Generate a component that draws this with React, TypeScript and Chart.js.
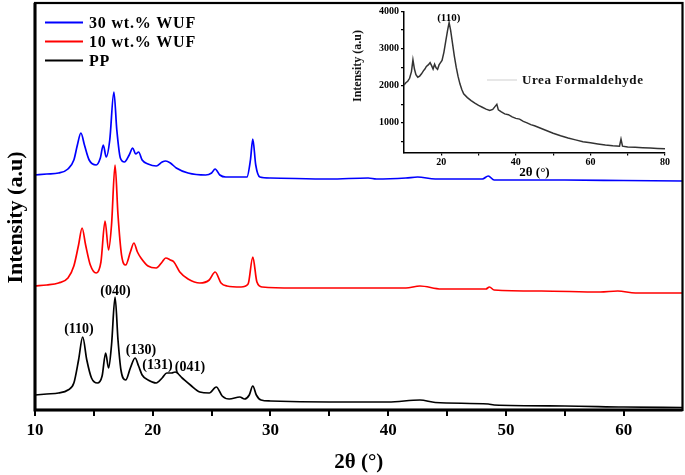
import React, { useEffect, useRef } from "react";
import { Chart, registerables } from "chart.js";

Chart.register(...registerables);

const FONT = "'Liberation Serif', 'Times New Roman', serif";

// ---------- Main XRD patterns (2θ in degrees, intensity in a.u., stacked) ----------
const wuf30X = [10, 11, 12, 12.8, 13.3, 13.6, 13.9, 14.2, 14.6, 15.2, 15.55, 15.8, 16.05, 16.35, 16.7, 16.95, 17.25, 17.6, 18.0, 18.3, 18.55, 18.8, 19.1, 19.6, 20.3, 20.8, 21.1, 21.5, 22.0, 23.0, 24.5, 25.0, 25.3, 25.7, 26.2, 28.0, 28.3, 28.5, 28.75, 29.1, 30, 35, 38.3, 39, 41.5, 42.5, 44, 48, 48.5, 49, 55, 60, 65];
const wuf30Y = [235, 236, 237, 241, 250, 265, 277, 265, 250, 245, 252, 265, 253, 270, 318, 280, 252, 248, 255, 262, 256, 258, 250, 246, 244, 248, 249, 247, 242, 237, 235, 237, 241, 235, 233, 233, 250, 271, 245, 233, 232, 231, 232, 231, 232, 233, 231, 231, 234, 230, 230, 229.5, 229];

const wuf10X = [10, 11, 12, 12.8, 13.3, 13.7, 14.0, 14.3, 14.7, 15.2, 15.6, 15.95, 16.25, 16.5, 16.8, 17.05, 17.35, 17.7, 18.1, 18.4, 18.7, 19.0, 19.6, 20.3, 20.8, 21.1, 21.5, 21.8, 22.3, 23.0, 24.0, 24.8, 25.3, 25.8, 26.3, 27.5, 28.1, 28.5, 28.85, 29.3, 32, 38, 41.5, 42.7, 44.5, 48.3, 48.6, 49, 53, 58, 59.5, 61, 65];
const wuf10Y = [124, 125, 127, 132, 144, 165, 182, 165, 145, 137, 148, 189, 160, 185, 245, 195, 155, 145, 158, 167, 158, 152, 144, 142, 148, 152, 150, 148, 138, 131, 127, 130, 138, 127, 124, 123, 126, 153, 128, 123, 122, 122, 122, 124, 121, 121, 123, 120, 119, 118, 119, 117, 117];

const ppX = [10, 11, 12, 12.8, 13.3, 13.7, 14.05, 14.4, 14.8, 15.3, 15.7, 16.0, 16.25, 16.5, 16.8, 17.05, 17.3, 17.7, 18.1, 18.5, 18.8, 19.1, 19.6, 20.3, 20.8, 21.2, 21.6, 21.9, 22.5, 23.2, 24.0, 24.8, 25.4, 25.9, 26.5, 27.4, 27.8, 28.2, 28.5, 28.8, 29.2, 30, 35, 40, 42.7, 44, 48.5, 49, 55, 60, 65];
const ppY = [15, 16, 17, 20, 27, 50, 73, 50, 32, 27, 34, 57, 42, 65, 113, 70, 40, 30, 42, 52, 44, 35, 30, 27, 32, 37, 37, 38, 32, 25, 18, 17, 23, 14, 11, 13, 11, 15, 24, 15, 10, 9, 8, 8, 10, 7.5, 6, 5, 4, 3, 2.5];

const seriesLabels = ["30 wt.% WUF", "10 wt.% WUF", "PP"];
const seriesColors = ["#0000ff", "#ff0000", "#000000"];

const mainXTicks = [10, 15, 20, 25, 30, 35, 40, 45, 50, 55, 60];

const peakLabels = ["(110)", "(040)", "(130)", "(131)", "(041)"];
const peakLabelX = [13.73, 16.83, 19.0, 20.4, 23.16];
const peakLabelY = [81, 119, 60, 45, 43];

// ---------- Inset: Urea Formaldehyde ----------
const ufX = [10, 10.5, 11, 11.5, 12, 12.4, 12.8, 13.2, 13.7, 14.2, 14.7, 15.2, 15.6, 16, 16.5, 17, 17.4, 17.8, 18.2, 18.6, 19, 19.4, 19.8, 20.2, 20.7, 21.2, 21.7, 22.1, 22.5, 23, 23.5, 24, 24.5, 25, 25.5, 26, 27, 28, 29, 30, 31, 32, 33, 33.8, 34.5, 34.9, 35.3, 36, 37, 38, 39, 40, 41, 42, 43, 44, 45, 46, 48, 50, 52, 54, 56, 58, 60, 62, 64, 66, 67.8, 68.2, 68.6, 70, 72, 74, 76, 78, 80];
const ufY = [2020, 2080, 2120, 2200, 2380, 2700, 2450, 2300, 2230, 2260, 2320, 2400, 2450, 2520, 2560, 2620, 2540, 2450, 2580, 2480, 2440, 2560, 2620, 2680, 2900, 3200, 3500, 3700, 3500, 3150, 2800, 2500, 2250, 2050, 1900, 1780, 1680, 1600, 1530, 1470, 1420, 1370, 1330, 1360, 1450, 1500, 1350, 1300, 1240, 1220, 1160, 1120, 1100, 1040, 1000, 950, 920, 880, 800, 720, 650, 590, 540, 490, 460, 430, 400, 380, 370, 560, 370, 350, 340, 330, 320, 310, 300];

const insetLabel = "Urea Formaldehyde";
const insetXTicks = [20, 30, 40, 50, 60, 70, 80];
const insetYTicks = [500, 1000, 1500, 2000, 2500, 3000, 3500, 4000];
const insetPeakLabel = "(110)";
const insetPeakX = 22.0;
const insetPeakY = 3820;

const toPts = (xs: number[], ys: number[]) => xs.map((x, i) => ({ x, y: ys[i] }));

const framePlugin = {
  id: "frame",
  afterDraw(chart: any) {
    const { ctx, chartArea: a } = chart;
    ctx.save();
    ctx.strokeStyle = "#000";
    ctx.lineWidth = 2.2;
    ctx.strokeRect(a.left, a.top, a.right - a.left, a.bottom - a.top);
    ctx.lineWidth = 3;
    ctx.beginPath();
    ctx.moveTo(a.left, a.top);
    ctx.lineTo(a.left, a.bottom);
    ctx.lineTo(a.right, a.bottom);
    ctx.stroke();
    ctx.restore();
  },
};

const mainLegendPlugin = {
  id: "mainLegend",
  afterDraw(chart: any) {
    const { ctx, chartArea: a } = chart;
    ctx.save();
    chart.data.datasets.forEach((ds: any, i: number) => {
      const y = a.top + 19.5 + i * 19;
      ctx.strokeStyle = ds.borderColor;
      ctx.lineWidth = 2;
      ctx.beginPath();
      ctx.moveTo(a.left + 10, y);
      ctx.lineTo(a.left + 48, y);
      ctx.stroke();
      ctx.fillStyle = "#000";
      ctx.font = `bold 16px ${FONT}`;
      (ctx as any).letterSpacing = "0.8px";
      ctx.textAlign = "left";
      ctx.textBaseline = "middle";
      ctx.fillText(ds.label, a.left + 54, y + 1);
    });
    ctx.restore();
  },
};

const peakLabelPlugin = {
  id: "peakLabels",
  afterDatasetsDraw(chart: any) {
    const { ctx, scales } = chart;
    ctx.save();
    ctx.fillStyle = "#000";
    ctx.font = `bold 14px ${FONT}`;
    ctx.textAlign = "center";
    ctx.textBaseline = "middle";
    peakLabels.forEach((t, i) => {
      ctx.fillText(t, scales.x.getPixelForValue(peakLabelX[i]), scales.y.getPixelForValue(peakLabelY[i]));
    });
    ctx.restore();
  },
};

const insetExtrasPlugin = {
  id: "insetExtras",
  afterDraw(chart: any) {
    const { ctx, scales, chartArea: a } = chart;
    ctx.save();
    // peak label
    ctx.fillStyle = "#000";
    ctx.font = `bold 11px ${FONT}`;
    ctx.textAlign = "center";
    ctx.textBaseline = "middle";
    ctx.fillText(insetPeakLabel, scales.x.getPixelForValue(insetPeakX), scales.y.getPixelForValue(insetPeakY));
    // legend
    const ly = a.top + 68.5;
    ctx.strokeStyle = "#cfcfcf";
    ctx.lineWidth = 1;
    ctx.beginPath();
    ctx.moveTo(a.left + 83, ly);
    ctx.lineTo(a.left + 113, ly);
    ctx.stroke();
    ctx.fillStyle = "#111";
    ctx.font = `bold 13px ${FONT}`;
    (ctx as any).letterSpacing = "0.6px";
    ctx.textAlign = "left";
    ctx.fillText(insetLabel, a.left + 118, ly + 1);
    // y title
    (ctx as any).letterSpacing = "0px";
    ctx.font = `bold 12px ${FONT}`;
    ctx.textAlign = "center";
    ctx.translate(18, a.top + 54.5);
    ctx.rotate(-Math.PI / 2);
    ctx.fillText("Intensity (a.u)", 0, 0);
    ctx.restore();
  },
};

function MainChart() {
  const ref = useRef<HTMLCanvasElement>(null);
  useEffect(() => {
    const chart = new Chart(ref.current as HTMLCanvasElement, {
      type: "line",
      data: {
        datasets: [
          { label: seriesLabels[0], data: toPts(wuf30X, wuf30Y), borderColor: seriesColors[0], backgroundColor: seriesColors[0] },
          { label: seriesLabels[1], data: toPts(wuf10X, wuf10Y), borderColor: seriesColors[1], backgroundColor: seriesColors[1] },
          { label: seriesLabels[2], data: toPts(ppX, ppY), borderColor: seriesColors[2], backgroundColor: seriesColors[2] },
        ],
      },
      options: {
        animation: false,
        responsive: false,
        events: [],
        layout: { padding: { top: 3, right: 2.5, left: 0, bottom: 0 } },
        elements: {
          point: { radius: 0 },
          line: { borderWidth: 1.7, cubicInterpolationMode: "monotone" },
        },
        plugins: { legend: { display: false }, tooltip: { enabled: false } },
        scales: {
          x: {
            type: "linear",
            min: 10,
            max: 65,
            afterBuildTicks: (s: any) => {
              s.ticks = mainXTicks.map((v) => ({ value: v }));
            },
            afterFit: (s: any) => {
              s.height = 65;
            },
            ticks: {
              autoSkip: false,
              maxRotation: 0,
              padding: 4,
              color: "#000",
              font: { family: FONT, size: 17, weight: "bold" },
              callback: (v: any) => (Number(v) % 10 === 0 ? String(v) : ""),
            },
            grid: { display: true, drawOnChartArea: false, drawTicks: true, tickLength: 6, color: "#000", lineWidth: 2 },
            border: { display: false },
            title: {
              display: true,
              text: "2θ (°)",
              color: "#000",
              font: { family: FONT, size: 21, weight: "bold" },
              padding: { top: 0, bottom: 0 },
            },
          },
          y: {
            type: "linear",
            min: 0,
            max: 407,
            afterFit: (s: any) => {
              s.width = 35;
            },
            ticks: { display: false },
            grid: { display: false },
            border: { display: false },
            title: {
              display: true,
              text: "Intensity (a.u)\u2002\u2002",
              color: "#000",
              font: { family: FONT, size: 22, weight: "bold" },
              padding: { top: 3, bottom: 0 },
            },
          },
        },
      } as any,
      plugins: [peakLabelPlugin, framePlugin, mainLegendPlugin],
    });
    return () => chart.destroy();
  }, []);
  return (
    <canvas ref={ref} width={685} height={475} style={{ position: "absolute", left: 0, top: 0, width: 685, height: 475 }} />
  );
}

function InsetChart() {
  const ref = useRef<HTMLCanvasElement>(null);
  useEffect(() => {
    const chart = new Chart(ref.current as HTMLCanvasElement, {
      type: "line",
      data: {
        datasets: [
          { label: insetLabel, data: toPts(ufX, ufY), borderColor: "#333333", backgroundColor: "#333333", borderWidth: 1.5 },
        ],
      },
      options: {
        animation: false,
        responsive: false,
        events: [],
        layout: { padding: { top: 11.5, right: 15, left: 0, bottom: 0 } },
        elements: { point: { radius: 0 }, line: { tension: 0 } },
        plugins: { legend: { display: false }, tooltip: { enabled: false } },
        scales: {
          x: {
            type: "linear",
            min: 10,
            max: 80,
            afterBuildTicks: (s: any) => {
              s.ticks = insetXTicks.map((v) => ({ value: v }));
            },
            afterFit: (s: any) => {
              s.height = 37.5;
            },
            ticks: {
              autoSkip: false,
              maxRotation: 0,
              padding: 1,
              color: "#000",
              font: { family: FONT, size: 10, weight: "bold" },
              callback: (v: any) => (Number(v) % 20 === 0 ? String(v) : ""),
            },
            grid: { display: true, drawOnChartArea: false, drawTicks: true, tickLength: 3, color: "#000", lineWidth: 1.2 },
            border: { display: true, color: "#000", width: 1.5 },
            title: {
              display: true,
              text: "2θ (°)",
              color: "#000",
              font: { family: FONT, size: 13, weight: "bold" },
              padding: { top: 0, bottom: 10 },
            },
          },
          y: {
            type: "linear",
            min: 200,
            max: 4000,
            afterBuildTicks: (s: any) => {
              s.ticks = insetYTicks.map((v) => ({ value: v }));
            },
            afterFit: (s: any) => {
              s.width = 64;
            },
            ticks: {
              padding: 2,
              color: "#000",
              font: { family: FONT, size: 10, weight: "bold" },
              callback: (v: any) => (Number(v) % 1000 === 0 ? String(v) : ""),
            },
            grid: { display: true, drawOnChartArea: false, drawTicks: true, tickLength: 3, color: "#000", lineWidth: 1.2 },
            border: { display: true, color: "#000", width: 1.5 },
          },
        },
      } as any,
      plugins: [insetExtrasPlugin],
    });
    return () => chart.destroy();
  }, []);
  return (
    <canvas ref={ref} width={340} height={190} style={{ position: "absolute", left: 340, top: 0, width: 340, height: 190 }} />
  );
}

export default function App() {
  return (
    <div style={{ position: "fixed", left: 0, top: 0, width: 685, height: 475, background: "#fff", overflow: "hidden" }}>
      <MainChart />
      <InsetChart />
    </div>
  );
}
